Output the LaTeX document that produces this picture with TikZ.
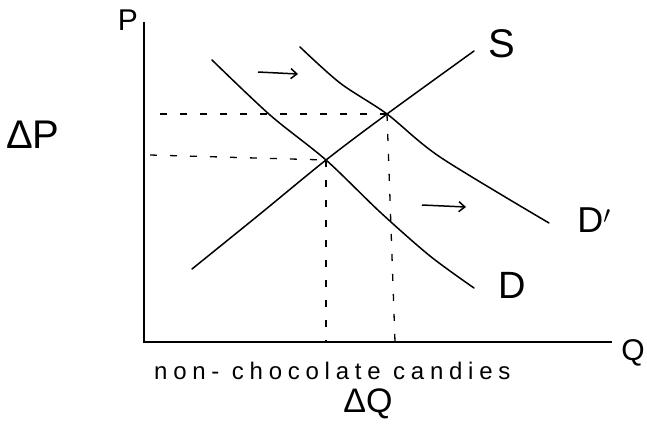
\documentclass[tikz,border=0pt]{standalone}
\usepackage{fontspec}
\setmainfont{Liberation Sans}
\usetikzlibrary{arrows.meta}
\begin{document}
\begin{tikzpicture}[x=1pt,y=-1pt,
  curve/.style={line width=1.5pt,line cap=round},
  axis/.style={line width=2.4pt},
  guide/.style={line width=1.3pt,dash pattern=on 7pt off 13pt},
  shiftarrow/.style={line width=1.5pt,-{Straight Barb[length=6pt,width=10pt]}},
  lbl/.style={inner sep=0pt}]
\useasboundingbox (0,0) rectangle (647,423);
% key points
\coordinate (O) at (144,342);
\coordinate (Ptop) at (144,22);
\coordinate (Qend) at (612,342);
\coordinate (E1) at (326,160);
\coordinate (E2) at (387,114);
\coordinate (Pa) at (160,114);
\coordinate (Pb) at (150,155);
\coordinate (Qa) at (326,342);
\coordinate (Qb) at (395,342);
\coordinate (A1s) at (258,72);
\coordinate (A1e) at (298,74);
\coordinate (A2s) at (422,205);
\coordinate (A2e) at (466,207);
% axes
\draw[axis] (Ptop) -- (O) -- (Qend);
% curves
\draw[curve] plot[smooth] coordinates {(212,60) (270,115) (E1) (380,212) (430,256) (474,288)};
\draw[curve] plot[smooth] coordinates {(300,47) (340,83) (E2) (440,157) (549,223)};
\draw[curve] plot[smooth] coordinates {(192,269) (260,214) (E1) (E2) (474,51)};
% dashed guides
\draw[guide] (Pa) -- (E2);
\draw[guide] (Pb) -- (E1);
\draw[guide] (E1) -- (Qa);
\draw[guide] (E2) -- (Qb);
% shift arrows
\draw[shiftarrow] (A1s) -- (A1e);
\draw[shiftarrow] (A2s) -- (A2e);
% labels
\node[lbl,font=\fontsize{30}{30}\selectfont] (lP) at (128,20) {P};
\node[lbl,font=\fontsize{30}{30}\selectfont] (lQ) at (633,353) {Q};
\node[lbl,font=\fontsize{40}{40}\selectfont] (lS) at (502,44) {S};
\node[lbl,font=\fontsize{36}{36}\selectfont] (lDp) at (594,220) {D$'$};
\node[lbl,font=\fontsize{38}{38}\selectfont] (lD) at (512,285) {D};
\node[lbl,font=\fontsize{40}{40}\selectfont,anchor=west] (lDP) at (6,135) {ΔP};
\node[lbl,font=\fontsize{34}{34}\selectfont] (lDQ) at (368,404) {ΔQ};
\node[lbl,font=\fontsize{24}{24}\selectfont\addfontfeature{LetterSpace=24},anchor=west] (lx) at (154,371) {non- chocolate candies};
\end{tikzpicture}
\end{document}
